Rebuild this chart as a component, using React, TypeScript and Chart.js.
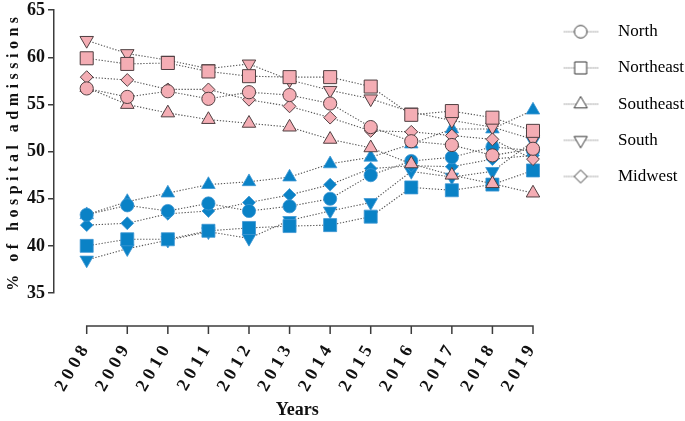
import React, { useEffect, useRef } from 'react';
import { Chart, registerables } from 'chart.js';

Chart.register(...registerables);

// ---------- data ----------
const years = [2008, 2009, 2010, 2011, 2012, 2013, 2014, 2015, 2016, 2017, 2018, 2019];
const regionNames = ['North', 'Northeast', 'Southeast', 'South', 'Midwest'];
const yTicks = [35, 40, 45, 50, 55, 60, 65];

// pink group
const northPink = [56.7, 55.8, 56.4, 55.6, 56.3, 56.0, 55.1, 52.6, 51.1, 50.7, 49.6, 50.3];
const northeastPink = [59.9, 59.3, 59.4, 58.5, 58.0, 57.9, 57.9, 56.9, 53.9, 54.3, 53.6, 52.2];
const southeastPink = [56.8, 55.0, 54.1, 53.4, 53.0, 52.6, 51.3, 50.4, 48.7, 47.5, 46.6, 45.6];
const southPink = [61.8, 60.4, 59.7, 58.8, 59.3, 57.6, 56.5, 55.6, 54.2, 53.3, 52.6, 51.3];
const midwestPink = [57.9, 57.6, 56.6, 56.6, 55.5, 54.8, 53.6, 52.2, 52.1, 51.7, 51.3, 49.2];

// blue group
const northBlue = [43.3, 44.3, 43.7, 44.5, 43.7, 44.2, 45.0, 47.5, 49.0, 49.4, 50.5, 50.1];
const northeastBlue = [40.0, 40.7, 40.7, 41.6, 41.9, 42.1, 42.2, 43.1, 46.2, 45.9, 46.5, 48.0];
const southeastBlue = [43.3, 44.7, 45.6, 46.5, 46.8, 47.3, 48.7, 49.4, 50.8, 52.4, 52.4, 54.4];
const southBlue = [38.5, 39.7, 40.6, 41.5, 40.8, 42.7, 43.7, 44.6, 47.9, 47.3, 47.9, 51.1];
const midwestBlue = [42.2, 42.4, 43.4, 43.7, 44.6, 45.4, 46.5, 48.2, 48.5, 48.4, 49.2, 49.6];

// ---------- styles ----------
const FONT = "'Liberation Serif', 'Times New Roman', serif";
const AXIS_COLOR = '#3c3c3c';
const PINK = '#F4ADB4';
const PINK_BORDER = '#4f3f41';
const BLUE = '#0A82C6';
const BLUE_BORDER = '#3f97d3';
const LINE_COLOR = '#555555';

const shapes: Record<string, { style: string; radius: number; rotation: number }> = {
  North: { style: 'circle', radius: 6.6, rotation: 0 },
  Northeast: { style: 'rect', radius: 9.2, rotation: 0 },
  Southeast: { style: 'triangle', radius: 7.8, rotation: 0 },
  South: { style: 'triangle', radius: 7.8, rotation: 180 },
  Midwest: { style: 'rectRot', radius: 6.4, rotation: 0 },
};

function makeLegendIcon(name: string): HTMLCanvasElement {
  const c = document.createElement('canvas');
  c.width = 44;
  c.height = 20;
  const g = c.getContext('2d')!;
  g.fillStyle = '#6a6a6a';
  for (let x = 1.5; x < 35.5; x += 2.2) g.fillRect(x, 9.5, 1.1, 1);
  const cx = 18.2;
  const cy = 10;
  g.beginPath();
  if (name === 'North') {
    g.arc(cx, cy, 6.3, 0, Math.PI * 2);
  } else if (name === 'Northeast') {
    g.rect(cx - 6, cy - 6, 12, 12);
  } else if (name === 'Southeast') {
    const r = 7.6;
    g.moveTo(cx, cy - r);
    g.lineTo(cx + r * 0.866, cy + r / 2);
    g.lineTo(cx - r * 0.866, cy + r / 2);
    g.closePath();
  } else if (name === 'South') {
    const r = 7.6;
    g.moveTo(cx, cy + r);
    g.lineTo(cx + r * 0.866, cy - r / 2);
    g.lineTo(cx - r * 0.866, cy - r / 2);
    g.closePath();
  } else {
    const r = 6.5;
    g.moveTo(cx, cy - r);
    g.lineTo(cx + r, cy);
    g.lineTo(cx, cy + r);
    g.lineTo(cx - r, cy);
    g.closePath();
  }
  g.fillStyle = '#ffffff';
  g.fill();
  g.strokeStyle = '#333333';
  g.lineWidth = 1;
  g.stroke();
  return c;
}

function makeDataset(name: string, values: number[], group: 'pink' | 'blue', order: number) {
  const s = shapes[name];
  const pink = group === 'pink';
  return {
    label: `${name} (${group})`,
    data: years.map((yr, i) => ({ x: yr, y: values[i] })),
    order,
    borderColor: LINE_COLOR,
    borderWidth: 1.1,
    borderDash: [1.3, 1.7],
    fill: false,
    tension: 0,
    pointStyle: s.style,
    pointRadius: s.radius,
    pointRotation: s.rotation,
    pointBackgroundColor: pink ? PINK : BLUE,
    pointBorderColor: pink ? PINK_BORDER : BLUE_BORDER,
    pointBorderWidth: pink ? 1 : 0.8,
    pointHoverRadius: s.radius,
  };
}

const xAxisLinePlugin = {
  id: 'xAxisLine',
  beforeDatasetsDraw(chart: any) {
    const { ctx, chartArea, scales } = chart;
    const x = scales.x;
    const y0 = chartArea.bottom + 33;
    const x0 = x.getPixelForValue(years[0]);
    const x1 = x.getPixelForValue(years[years.length - 1]);
    ctx.save();
    ctx.strokeStyle = AXIS_COLOR;
    ctx.lineWidth = 1.5;
    ctx.beginPath();
    ctx.moveTo(x0 - 0.75, y0);
    ctx.lineTo(x1 + 0.75, y0);
    years.forEach((yr) => {
      const px = x.getPixelForValue(yr);
      ctx.moveTo(px, y0);
      ctx.lineTo(px, y0 + 8);
    });
    ctx.stroke();
    ctx.restore();
  },
};

const letterSpacingPlugin = {
  id: 'letterSpacing',
  afterLayout(chart: any) {
    const xs = chart.scales.x;
    const ys = chart.scales.y;
    if (xs && !xs._lsPatched) {
      const orig = xs.drawLabels;
      xs.drawLabels = function (area: any) {
        const ctx = this.ctx;
        ctx.save();
        ctx.letterSpacing = '4.5px';
        orig.call(this, area);
        ctx.restore();
      };
      xs._lsPatched = true;
    }
    if (ys && !ys._lsPatched) {
      const origT = ys.drawTitle;
      ys.drawTitle = function () {
        const ctx = this.ctx;
        ctx.save();
        ctx.letterSpacing = '4.5px';
        origT.call(this);
        ctx.restore();
      };
      ys._lsPatched = true;
    }
  },
};

export default function App() {
  const ref = useRef<HTMLCanvasElement>(null);

  useEffect(() => {
    document.body.style.margin = '0';
    const icons = regionNames.map((n) => makeLegendIcon(n));

    const datasets = [
      makeDataset('North', northPink, 'pink', 0),
      makeDataset('Northeast', northeastPink, 'pink', 1),
      makeDataset('Southeast', southeastPink, 'pink', 3),
      makeDataset('South', southPink, 'pink', 4),
      makeDataset('Midwest', midwestPink, 'pink', 2),
      makeDataset('North', northBlue, 'blue', 5),
      makeDataset('Northeast', northeastBlue, 'blue', 6),
      makeDataset('Southeast', southeastBlue, 'blue', 8),
      makeDataset('South', southBlue, 'blue', 9),
      makeDataset('Midwest', midwestBlue, 'blue', 7),
    ];

    const chart = new Chart(ref.current!, {
      type: 'line',
      data: { datasets: datasets as any },
      plugins: [xAxisLinePlugin, letterSpacingPlugin],
      options: {
        responsive: false,
        animation: false,
        events: [],
        layout: { padding: { top: 4, right: 0, bottom: 0, left: 0 } },
        scales: {
          x: {
            type: 'linear',
            min: 2007.194,
            max: 2019.18,
            grid: { display: false, drawTicks: false },
            border: { display: false },
            afterBuildTicks: (scale: any) => {
              scale.ticks = years.map((v) => ({ value: v }));
            },
            afterFit: (scale: any) => {
              scale.height = 128;
              scale.paddingLeft = 0;
              scale.paddingRight = 0;
            },
            ticks: {
              autoSkip: false,
              minRotation: 60,
              maxRotation: 60,
              padding: 45,
              color: '#111',
              font: { family: FONT, size: 18, weight: 'bold' },
              callback: (v: any) => String(v),
            },
            title: {
              display: true,
              text: 'Years',
              color: '#111',
              font: { family: FONT, size: 18, weight: 'bold' },
              padding: { top: 0, bottom: 0 },
            },
          },
          y: {
            type: 'linear',
            min: 35,
            max: 65,
            afterBuildTicks: (scale: any) => {
              scale.ticks = yTicks.map((v) => ({ value: v }));
            },
            afterFit: (scale: any) => {
              scale.width = 54;
              scale.paddingTop = 6;
              scale.paddingBottom = 0;
            },
            grid: {
              display: true,
              drawOnChartArea: false,
              drawTicks: true,
              tickLength: 6,
              color: AXIS_COLOR,
              lineWidth: 1.5,
            },
            border: { display: true, color: AXIS_COLOR, width: 1.5 },
            ticks: {
              padding: 3,
              color: '#111',
              font: { family: FONT, size: 18, weight: 'bold' },
            },
            title: {
              display: true,
              text: '% of hospital admissions',
              color: '#111',
              font: { family: FONT, size: 16, weight: 'bold' },
              padding: { top: 4, bottom: 4 },
            },
          },
        },
        plugins: {
          tooltip: { enabled: false },
          legend: {
            display: true,
            position: 'right',
            align: 'start',
            maxWidth: 144.7,
            labels: {
              usePointStyle: true,
              pointStyleWidth: 50,
              boxHeight: 17,
              padding: 19.2,
              color: '#111',
              font: { family: FONT, size: 17 },
              generateLabels: () =>
                regionNames.map((name, i) => ({
                  text: name,
                  pointStyle: icons[i] as any,
                  fillStyle: 'rgba(0,0,0,0)',
                  strokeStyle: 'rgba(0,0,0,0)',
                  lineWidth: 0,
                  hidden: false,
                  datasetIndex: i,
                })),
            },
          },
        },
      } as any,
    });

    return () => chart.destroy();
  }, []);

  return (
    <div style={{ width: 685, height: 421 }}>
      <canvas ref={ref} width={685} height={421} style={{ display: 'block', width: 685, height: 421 }} />
    </div>
  );
}
